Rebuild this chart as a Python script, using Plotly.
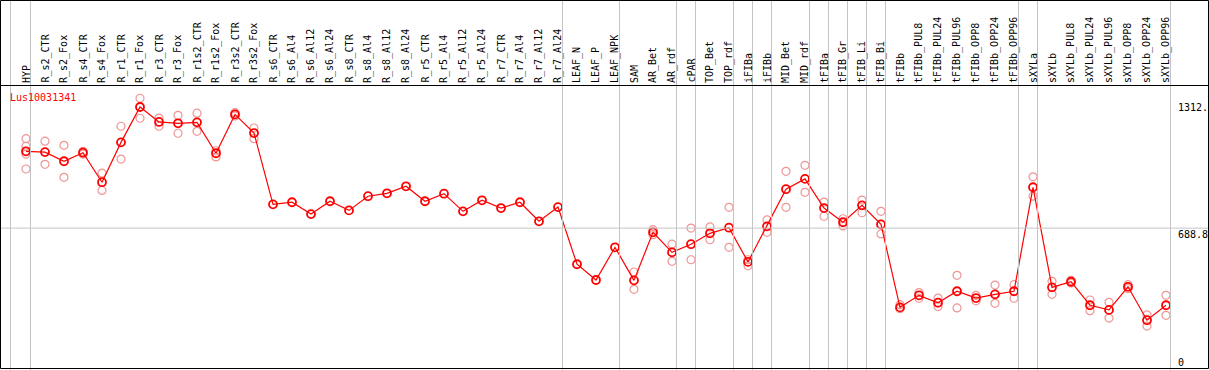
import plotly.graph_objects as go

gene = "Lus10031341"

categories = [
    "HYP", "R_s2_CTR", "R_s2_Fox", "R_s4_CTR", "R_s4_Fox", "R_r1_CTR", "R_r1_Fox",
    "R_r3_CTR", "R_r3_Fox", "R_r1s2_CTR", "R_r1s2_Fox", "R_r3s2_CTR", "R_r3s2_Fox",
    "R_s6_CTR", "R_s6_Al4", "R_s6_Al12", "R_s6_Al24", "R_s8_CTR", "R_s8_Al4",
    "R_s8_Al12", "R_s8_Al24", "R_r5_CTR", "R_r5_Al4", "R_r5_Al12", "R_r5_Al24",
    "R_r7_CTR", "R_r7_Al4", "R_r7_Al12", "R_r7_Al24", "LEAF_N", "LEAF_P", "LEAF_NPK",
    "SAM", "AR_Bet", "AR_rdf", "cPAR", "TOP_Bet", "TOP_rdf", "iFIBa", "iFIBb",
    "MID_Bet", "MID_rdf", "tFIBa", "tFIB_Gr", "tFIB_Li", "tFIB_Bi", "tFIBb",
    "tFIBb_PUL8", "tFIBb_PUL24", "tFIBb_PUL96", "tFIBb_OPP8", "tFIBb_OPP24",
    "tFIBb_OPP96", "sXYLa", "sXYLb", "sXYLb_PUL8", "sXYLb_PUL24", "sXYLb_PUL96",
    "sXYLb_OPP8", "sXYLb_OPP24", "sXYLb_OPP96",
]

means = [
    1084, 1080, 1033, 1077, 925, 1130, 1312, 1235, 1228, 1233, 1074, 1274, 1178,
    811, 822, 761, 827, 780, 853, 868, 904, 827, 866, 775, 832, 792, 822, 724, 797,
    503, 422, 590,
    420, 667, 564, 606, 662, 691, 515, 698, 889, 942, 792, 719, 806, 708,
    281, 343, 305, 364, 329, 348, 364,
    899, 384, 413, 292, 268, 387, 215, 292,
]

replicates = [
    [1149, 1110, 1070, 993], [1136, 1017], [1115, 950], [1084, 1070], [972, 883],
    [1213, 1044], [1357, 1254], [1255, 1213], [1269, 1177], [1280, 1187],
    [1087, 1055], [1283, 1266], [1204, 1149],
    [], [], [], [], [], [], [], [], [], [], [], [], [], [], [], [],
    [], [], [],
    [463, 374], [681, 655], [606, 518], [689, 526], [695, 629], [796, 590],
    [526, 495], [731, 667], [981, 796], [1012, 873], [823, 750], [737, 700],
    [833, 768], [775, 659],
    [295, 274], [357, 328], [329, 285], [446, 278], [343, 315], [396, 302], [398, 328],
    [953, 853], [415, 348], [420, 406], [319, 264], [307, 226], [398, 377],
    [242, 185], [343, 240],
]

# indices after which a group separator line is drawn
group_ends = [-1, 0, 28, 31, 34, 35, 37, 38, 39, 41, 42, 43, 44, 45, 52, 53, 60]

ytick_vals = [1312, 688.8, 0]
ytick_text = ["1312.", "688.8", "0"]

W, H = 1209, 370
X0, DX = 26.0, 19.0          # pixel of first category, pixel step
Y0, KY = 362.0, 255.0 / 1312  # pixel of value 0, pixels per unit

xr = [(0 - X0) / DX, (W - X0) / DX]
yr = [(Y0 - H) / KY, Y0 / KY]

FONT = "DejaVu Sans Mono"

xs = list(range(len(categories)))
rx, ry = [], []
for i, reps in enumerate(replicates):
    for v in reps:
        rx.append(i)
        ry.append(v)

fig = go.Figure()
fig.add_trace(go.Scatter(
    x=rx, y=ry, mode="markers", hoverinfo="skip",
    marker=dict(symbol="circle-open", size=8, color="rgb(238,150,150)",
                line=dict(width=1.2, color="rgb(238,150,150)")),
))
fig.add_trace(go.Scatter(
    x=xs, y=means, mode="lines+markers",
    line=dict(color="red", width=1.2),
    marker=dict(symbol="circle-open", size=8, color="red",
                line=dict(width=1.8, color="red")),
))

shapes = []
for g in group_ends:
    xp = X0 + DX * g + 4.5
    if g == -1:
        xp = 10.5
    shapes.append(dict(type="line", xref="paper", yref="paper",
                       x0=xp / W, x1=xp / W, y0=0, y1=1,
                       line=dict(color="#c4c4c4", width=1)))
shapes.append(dict(type="line", xref="paper", yref="y", x0=0, x1=1,
                   y0=ytick_vals[1], y1=ytick_vals[1],
                   line=dict(color="#c4c4c4", width=1)))
for (a, b, c, d) in [(0.5, 0.5, W - 0.5, 0.5), (0.5, 85.5, W - 0.5, 85.5),
                     (0.5, H - 1.5, W - 0.5, H - 1.5), (0.5, 0.5, 0.5, H - 1.5),
                     (W - 0.5, 0.5, W - 0.5, H - 1.5)]:
    shapes.append(dict(type="line", xref="paper", yref="paper",
                       x0=a / W, x1=c / W, y0=1 - b / H, y1=1 - d / H,
                       line=dict(color="black", width=1)))

annotations = []
for i, c in enumerate(categories):
    annotations.append(dict(
        x=i, xref="x", y=1 - 84.0 / H, yref="paper", text=c, textangle=-90,
        showarrow=False, xanchor="center", yanchor="bottom", borderpad=0,
        font=dict(family=FONT, size=10, color="black"),
    ))
annotations.append(dict(
    x=9.0 / W, xref="paper", y=1 - 97.0 / H, yref="paper", text=gene,
    showarrow=False, xanchor="left", yanchor="middle", borderpad=0,
    font=dict(family=FONT, size=10, color="red"),
))
for v, t in zip(ytick_vals, ytick_text):
    annotations.append(dict(
        x=1177.0 / W, xref="paper", y=v, yref="y", text=t, showarrow=False,
        xanchor="left", yanchor="top" if v == ytick_vals[1] else "middle",
        borderpad=0, font=dict(family=FONT, size=10, color="black"),
    ))

fig.update_layout(
    width=W, height=H, margin=dict(l=0, r=0, t=0, b=0),
    paper_bgcolor="white", plot_bgcolor="white", showlegend=False,
    xaxis=dict(range=xr, visible=False, fixedrange=True),
    yaxis=dict(range=yr, visible=False, fixedrange=True),
    shapes=shapes, annotations=annotations,
)

fig.write_html(
    "out.html",
    config={"displayModeBar": False},
    post_script="document.body.style.margin='0';document.body.style.overflow='hidden';",
)
